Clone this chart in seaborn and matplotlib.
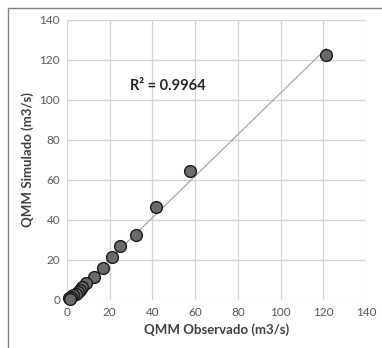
import numpy as np
import pandas as pd
import seaborn as sns
import matplotlib
matplotlib.use("Agg")
import matplotlib.pyplot as plt
from matplotlib.patches import Rectangle

observed = [121.5, 57.5, 41.5, 32.3, 25.0, 21.0, 17.0, 12.5, 9.0, 7.0, 6.0, 5.0, 4.0, 3.0, 2.0, 1.0, 1.5]
simulated = [122.5, 64.5, 46.5, 32.3, 27.0, 21.3, 16.0, 11.5, 8.5, 6.5, 5.0, 4.0, 3.0, 2.5, 1.5, 1.0, 0.5]
ticks = [0, 20, 40, 60, 80, 100, 120, 140]
r2_label = "R² = 0.9964"
x_label = "QMM Observado (m3/s)"
y_label = "QMM Simulado (m3/s)"

df = pd.DataFrame({"obs": observed, "sim": simulated})

sns.set_theme(style="white")
plt.rcParams["font.family"] = ["Lato", "DejaVu Sans"]

fig = plt.figure(figsize=(3.82, 3.48), dpi=100)
ax = fig.add_axes([67 / 382, 1 - 300 / 348, (366 - 67) / 382, 280 / 348])

# outer frame
fig.patches.append(Rectangle((8 / 382, -0.1), 1.2, 1 - 8 / 348 + 0.1, transform=fig.transFigure,
                             fill=False, edgecolor="#808080", linewidth=1.0))

# trendline
slope, intercept = np.polyfit(df["obs"], df["sim"], 1)
xl = np.array([0.5, max(observed)])
ax.plot(xl, slope * xl + intercept, color="#a8a8a8", linewidth=0.9, zorder=2)

sns.scatterplot(data=df, x="obs", y="sim", ax=ax, s=72, color="#6a6a6a",
                edgecolor="#1a1a1a", linewidth=1.0, zorder=3, clip_on=False)

ax.set_xlim(0, 140)
ax.set_ylim(0, 140)
ax.set_xticks(ticks)
ax.set_yticks(ticks)
ax.grid(True, color="#d4d4d4", linewidth=0.9)
ax.set_axisbelow(True)
for s in ax.spines.values():
    s.set_visible(False)
ax.tick_params(axis="both", labelsize=8.5, colors="#595959", length=3, width=0.8,
               direction="out", pad=2)
ax.tick_params(axis="both", color="#d4d4d4")
ax.set_xlabel(x_label, fontsize=9.5, fontweight="bold", color="#404040", labelpad=4)
ax.set_ylabel(y_label, fontsize=9.5, fontweight="bold", color="#404040", labelpad=4)
ax.text(29.5, 107, r2_label, fontsize=10.5, fontweight="bold", color="#262626",
        ha="left", va="center")

fig.savefig("out.png", dpi=100)
